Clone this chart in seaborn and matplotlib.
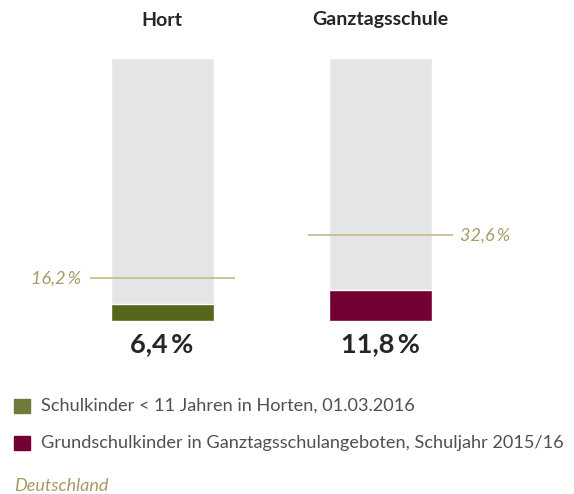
import matplotlib
matplotlib.use("Agg")
import matplotlib.pyplot as plt
import matplotlib.transforms as mtransforms
from matplotlib.patches import Rectangle
import seaborn as sns
import pandas as pd

# data
categories = ["Hort", "Ganztagsschule"]
shares = [6.4, 11.8]
reference = [16.2, 32.6]
share_labels = ["6,4\u2009%", "11,8\u2009%"]
reference_labels = ["16,2\u2009%", "32,6\u2009%"]
legend_labels = ["Schulkinder < 11 Jahren in Horten, 01.03.2016",
                 "Grundschulkinder in Ganztagsschulangeboten, Schuljahr 2015/16"]
region = "Deutschland"

bar_colors = ["#56661a", "#720032"]
legend_colors = ["#6f7b3a", "#720032"]
gray = "#e4e5e7"
line_color = "#cbbd8e"
label_color = "#a89a68"
text_dark = "#262626"

sns.set_theme(style="white")
plt.rcParams["font.family"] = ["Lato", "DejaVu Sans"]

W, H = 574, 494
fig = plt.figure(figsize=(W / 100, H / 100), dpi=100)
ax = fig.add_axes([0, (H - 321) / H, 1, 263 / H])

df = pd.DataFrame({"cat": categories, "share": shares, "full": [100] * len(categories)})
bar_w = 103 / 218
sns.barplot(data=df, x="cat", y="full", color=gray, width=bar_w,
            saturation=1, ax=ax, order=categories)
sns.barplot(data=df, x="cat", y="share", hue="cat", palette=bar_colors,
            width=bar_w, saturation=1, ax=ax, order=categories,
            hue_order=categories, legend=False)

ax.set_xlim(-162 / 218, (W - 162) / 218)
ax.set_ylim(0, 100)
ax.axis("off")

# reference lines with labels
half = bar_w / 2 + 21 / 218
gap = 8 / 218
for i, (val, lab) in enumerate(zip(reference, reference_labels)):
    ax.plot([i - half, i + half], [val, val], color=line_color, lw=1.3,
            solid_capstyle="butt")
    if i == 0:
        ax.text(i - half - gap, val, lab, ha="right", va="center",
                fontsize=13, style="italic", color=label_color)
    else:
        ax.text(i + half + gap, val, lab, ha="left", va="center",
                fontsize=13, style="italic", color=label_color)

# titles and value labels
tr = mtransforms.blended_transform_factory(ax.transData, fig.transFigure)
for i, cat in enumerate(categories):
    ax.text(i, 1 - 20 / H, cat, transform=tr, ha="center", va="center",
            fontsize=14, fontweight="bold", color=text_dark)
    ax.text(i, 1 - 344 / H, share_labels[i], transform=tr, ha="center",
            va="center", fontsize=19.5, fontweight="bold", color=text_dark)

# legend
for k, (lab, col) in enumerate(zip(legend_labels, legend_colors)):
    yc = 406 + k * 37
    fig.patches.append(Rectangle((14 / W, 1 - (yc + 7) / H), 16 / W, 14 / H,
                                 transform=fig.transFigure, color=col))
    fig.text(41 / W, 1 - yc / H, lab, ha="left", va="center",
             fontsize=13.1, color="#505050")

fig.text(14 / W, 1 - 486 / H, region, ha="left", va="center",
         fontsize=13, style="italic", color=label_color)

fig.savefig("out.png", dpi=100)
